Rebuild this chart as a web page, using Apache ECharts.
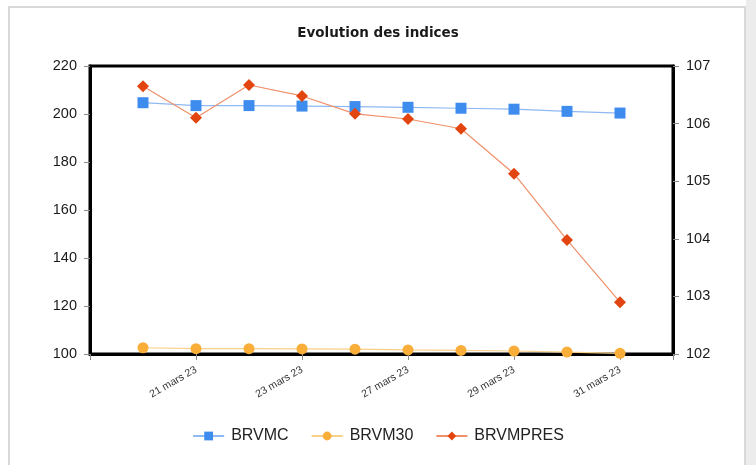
<!DOCTYPE html>
<html><head><meta charset="utf-8">
<script src="https://cdn.jsdelivr.net/npm/echarts@6/dist/echarts.min.js"></script>
<style>
html,body{margin:0;padding:0;background:#fff;}
#frame{position:absolute;left:8px;top:6px;width:738px;height:470px;border:2px solid #d9d9d9;box-sizing:border-box;}
#side{position:absolute;left:746px;top:0;width:10px;height:465px;background:#ececec;}
#c{position:absolute;left:0;top:0;width:756px;height:465px;}
</style></head>
<body><div id="side"></div><div id="frame"></div><div id="c"></div>
<script>
const categories = ['20 mars 23','21 mars 23','22 mars 23','23 mars 23','24 mars 23','27 mars 23','28 mars 23','29 mars 23','30 mars 23','31 mars 23'];
const brvmc = [204.7, 203.5, 203.5, 203.3, 203.1, 202.8, 202.4, 202.0, 201.1, 200.4];
const brvm30 = [102.6, 102.2, 102.2, 102.1, 102.0, 101.7, 101.5, 101.25, 100.8, 100.3];
const brvmpres = [106.65, 106.10, 106.67, 106.48, 106.17, 106.08, 105.91, 105.13, 103.98, 102.90];
const leftTicks = [100, 120, 140, 160, 180, 200, 220];
const rightTicks = [102, 103, 104, 105, 106, 107];
const seriesNames = ['BRVMC', 'BRVM30', 'BRVMPRES'];

const toPairs = arr => arr.map((v, i) => [i + 1, v]);

const chart = echarts.init(document.getElementById('c'));
const tickStyle = {show: true, length: 6, lineStyle: {color: '#8a8a8a', width: 1}};
chart.setOption({
  animation: false,
  backgroundColor: 'transparent',
  title: {
    text: 'Evolution des indices', left: 'center', top: 21,
    textStyle: {fontFamily: 'DejaVu Sans', fontWeight: 'bold', fontSize: 13.5, color: '#1a1a1a'}
  },
  grid: {left: 90, right: 83, top: 66, bottom: 111, show: true, borderColor: '#000', borderWidth: 3, backgroundColor: 'transparent'},
  legend: {
    bottom: 16, left: 'center', itemWidth: 31, itemHeight: 11, itemGap: 22,
    textStyle: {fontFamily: 'Liberation Sans', fontSize: 16, color: '#222', padding: [0, 0, 0, 2]},
    data: seriesNames
  },
  xAxis: {
    type: 'value', min: 0, max: categories.length + 1, interval: 2,
    splitLine: {show: false},
    axisLine: {show: true, lineStyle: {color: '#000', width: 3}},
    axisTick: tickStyle,
    axisLabel: {
      rotate: 30, margin: 15, fontFamily: 'Liberation Sans', fontSize: 10.5, color: '#333',
      formatter: v => categories[v - 1] || '',
      showMinLabel: true, showMaxLabel: true
    }
  },
  yAxis: [
    {
      type: 'value', min: leftTicks[0], max: leftTicks[leftTicks.length - 1], interval: 20,
      position: 'left', splitLine: {show: false},
      axisLine: {show: true, lineStyle: {color: '#000', width: 3}},
      axisTick: tickStyle,
      axisLabel: {margin: 13, fontFamily: 'Liberation Sans', fontSize: 14.5, color: '#1a1a1a'}
    },
    {
      type: 'value', min: rightTicks[0], max: rightTicks[rightTicks.length - 1], interval: 1,
      position: 'right', splitLine: {show: false},
      axisLine: {show: true, lineStyle: {color: '#000', width: 3}},
      axisTick: tickStyle,
      axisLabel: {margin: 13, fontFamily: 'Liberation Sans', fontSize: 14.5, color: '#1a1a1a'}
    }
  ],
  series: [
    {
      name: seriesNames[0], type: 'line', yAxisIndex: 0, data: toPairs(brvmc),
      symbol: 'rect', symbolSize: 11, color: '#3f8cef',
      itemStyle: {color: '#3f8cef'}, lineStyle: {color: '#8fb9f2', width: 1.2}
    },
    {
      name: seriesNames[1], type: 'line', yAxisIndex: 0, data: toPairs(brvm30),
      symbol: 'circle', symbolSize: 11, color: '#f9ae3a',
      itemStyle: {color: '#f9ae3a'}, lineStyle: {color: '#f8cf88', width: 1.2}
    },
    {
      name: seriesNames[2], type: 'line', yAxisIndex: 1, data: toPairs(brvmpres),
      symbol: 'diamond', symbolSize: 12, color: '#e2450f',
      itemStyle: {color: '#e2450f'}, lineStyle: {color: '#f0906a', width: 1.2}
    }
  ]
});
</script>
</body></html>
